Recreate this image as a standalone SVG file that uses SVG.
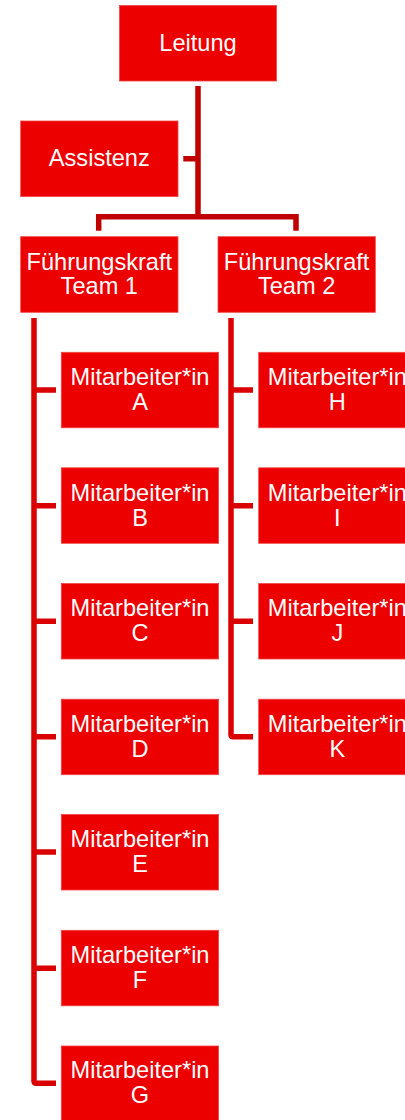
<svg xmlns="http://www.w3.org/2000/svg" width="405" height="1120" viewBox="0 0 405 1120">
<style>
.box{fill:#EC0000;stroke:#F24545;stroke-width:0.8}
.t{font-family:"Liberation Sans",Arial,sans-serif;font-size:23.6px;fill:#FFFFFF;text-anchor:middle}
.c1{fill:none;stroke:#C00000;stroke-width:5.5}
.c2{fill:none;stroke:#DA0000;stroke-width:5.5}
</style>
<rect width="405" height="1120" fill="#FFFFFF"/>
<g id="connectors">
<path class="c1" d="M198 86 V216.7 M183.3 158.7 H198 M98.7 230.7 V216.7 H296 V230.7"/>
<path class="c2" d="M34 318 V1081 Q34 1083.3 36.3 1083.3 H56 M34 390 H56 M34 505.7 H56 M34 621.3 H56 M34 736.7 H56 M34 852 H56 M34 968.3 H56"/>
<path class="c2" d="M231 318 V734.4 Q231 736.7 233.3 736.7 H253 M231 390 H253 M231 505.7 H253 M231 621.3 H253"/>
</g>
<g id="leitung"><rect class="box" x="119.5" y="5.5" width="157" height="75.5"/><text class="t" x="198" y="51.3">Leitung</text></g>
<g id="assistenz"><rect class="box" x="20.7" y="121" width="157.3" height="75.6"/><text class="t" x="99.3" y="165.8">Assistenz</text></g>
<g id="fk1"><rect class="box" x="20.7" y="236.7" width="157.3" height="75.6"/><text class="t" x="99.3" y="269.5">Führungskraft</text><text class="t" x="99.3" y="293.5">Team 1</text></g>
<g id="fk2"><rect class="box" x="218" y="236.7" width="157.3" height="75.6"/><text class="t" x="296.6" y="269.5">Führungskraft</text><text class="t" x="296.6" y="293.5">Team 2</text></g>
<g id="ma-a"><rect class="box" x="61.3" y="352.3" width="157.3" height="75.5"/><text class="t" x="140" y="385">Mitarbeiter*in</text><text class="t" x="140" y="410">A</text></g>
<g id="ma-b"><rect class="box" x="61.3" y="467.8" width="157.3" height="75.5"/><text class="t" x="140" y="500.7">Mitarbeiter*in</text><text class="t" x="140" y="525.7">B</text></g>
<g id="ma-c"><rect class="box" x="61.3" y="583.5" width="157.3" height="75.5"/><text class="t" x="140" y="616.3">Mitarbeiter*in</text><text class="t" x="140" y="641.3">C</text></g>
<g id="ma-d"><rect class="box" x="61.3" y="699.2" width="157.3" height="75.5"/><text class="t" x="140" y="731.7">Mitarbeiter*in</text><text class="t" x="140" y="756.7">D</text></g>
<g id="ma-e"><rect class="box" x="61.3" y="814.5" width="157.3" height="75.5"/><text class="t" x="140" y="847">Mitarbeiter*in</text><text class="t" x="140" y="872">E</text></g>
<g id="ma-f"><rect class="box" x="61.3" y="930.3" width="157.3" height="75.5"/><text class="t" x="140" y="963.3">Mitarbeiter*in</text><text class="t" x="140" y="988.3">F</text></g>
<g id="ma-g"><rect class="box" x="61.3" y="1046" width="157.3" height="75.5"/><text class="t" x="140" y="1078.3">Mitarbeiter*in</text><text class="t" x="140" y="1103.3">G</text></g>
<g id="ma-h"><rect class="box" x="258.7" y="352.3" width="157.3" height="75.5"/><text class="t" x="337.3" y="385">Mitarbeiter*in</text><text class="t" x="337.3" y="410">H</text></g>
<g id="ma-i"><rect class="box" x="258.7" y="467.8" width="157.3" height="75.5"/><text class="t" x="337.3" y="500.7">Mitarbeiter*in</text><text class="t" x="337.3" y="525.7">I</text></g>
<g id="ma-j"><rect class="box" x="258.7" y="583.5" width="157.3" height="75.5"/><text class="t" x="337.3" y="616.3">Mitarbeiter*in</text><text class="t" x="337.3" y="641.3">J</text></g>
<g id="ma-k"><rect class="box" x="258.7" y="699.2" width="157.3" height="75.5"/><text class="t" x="337.3" y="731.7">Mitarbeiter*in</text><text class="t" x="337.3" y="756.7">K</text></g>
</svg>
